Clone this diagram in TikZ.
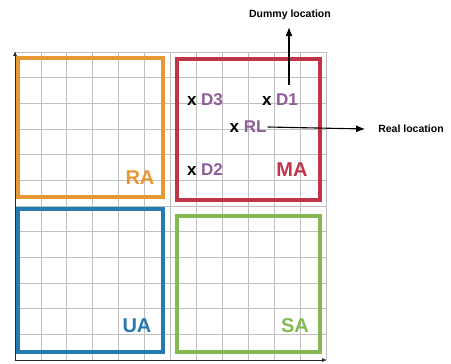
\documentclass[tikz,border=0pt]{standalone}
\usepackage{fontspec}
\setmainfont{Liberation Sans}
\usepackage{tikz}
\usetikzlibrary{arrows.meta}
\definecolor{raorange}{RGB}{232,152,50}
\definecolor{mared}{RGB}{192,52,72}
\definecolor{uablue}{RGB}{38,122,178}
\definecolor{sagreen}{RGB}{132,186,82}
\definecolor{dpurple}{RGB}{142,92,155}
\tikzset{
gridline/.style={draw=gray!50,line width=0.8pt},
axis/.style={draw=black!85,line width=0.9pt,-{Latex[length=5pt,width=4pt]}},
area/.style={line width=4pt},
arealabel/.style={font=\fontsize{20}{20}\selectfont\bfseries,inner sep=0pt},
loc/.style={font=\fontsize{17}{17}\selectfont\bfseries,text=dpurple,inner sep=1pt},
note/.style={font=\fontsize{10.5}{10.5}\selectfont\bfseries,inner sep=1pt},
pointer/.style={draw=black,line width=1.1pt,-{Latex[length=9pt,width=7pt]}}
}

\begin{document}
\begin{tikzpicture}[x=1pt,y=1pt]
\useasboundingbox (0,0) rectangle (451,364);
% the grid
\foreach \i in {0,...,12}
{
  \draw[gridline] (15+25.92*\i,4) -- (15+25.92*\i,312);
  \draw[gridline] (15,4+25.67*\i) -- (326,4+25.67*\i);
}
% the axes
\coordinate (o) at (15,4);
\draw[axis] (o) -- (15,313);
\draw[axis] (o) -- (327,4);
% the four areas
\draw[area,raorange] (18,167) rectangle (163,306);
\draw[area,mared] (177,164) rectangle (320,305);
\draw[area,uablue] (18,12) rectangle (163,155);
\draw[area,sagreen] (177,12) rectangle (320,148);
\node[arealabel,text=raorange] (ra) at (140,186) {RA};
\node[arealabel,text=mared] (ma) at (292,194) {MA};
\node[arealabel,text=uablue] (ua) at (137,38) {UA};
\node[arealabel,text=sagreen] (sa) at (295,38) {SA};
% the locations
\node[loc] (d3) at (205,264) {\textcolor{black}{x} D3};
\node[loc] (d1) at (280,264) {\textcolor{black}{x} D1};
\node[loc] (rl) at (248,237) {\textcolor{black}{x} RL};
\node[loc] (d2) at (205,194) {\textcolor{black}{x} D2};
\node[note] (dummy) at (290,349) {Dummy location};
\node[note] (real) at (411,235) {Real location};
\draw[pointer] ([xshift=9pt,yshift=8pt]d1.north) -- ([xshift=-1pt,yshift=-6pt]dummy.south);
\draw[pointer] (rl.east) -- ([xshift=-12pt]real.west);
\end{tikzpicture}
\end{document}
